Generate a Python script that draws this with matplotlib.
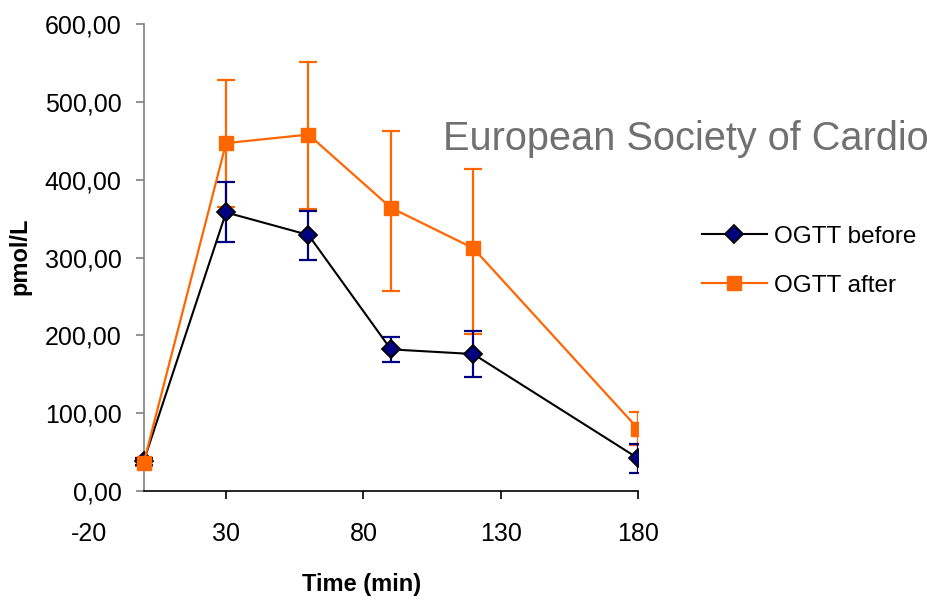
import matplotlib.pyplot as plt
import matplotlib.ticker as mticker

plt.rcParams['font.family'] = ['Liberation Sans', 'DejaVu Sans']
plt.rcParams['axes.unicode_minus'] = False

# ---- data ----
time_min = [0, 30, 60, 90, 120, 180]
before_mean = [38, 358, 329, 182, 176, 42]
before_err_lo = [5, 38, 32, 16, 29, 19]
before_err_hi = [5, 39, 31, 16, 29, 19]
after_mean = [36, 447, 458, 364, 312, 80]
after_err_lo = [4, 82, 96, 107, 110, 21]
after_err_hi = [4, 81, 93, 99, 102, 21]

x_ticks = [-20, 30, 80, 130, 180]
y_ticks = [0, 100, 200, 300, 400, 500, 600]

navy = '#000080'
orange = '#FF6600'

fig = plt.figure(figsize=(9.28, 6.01), dpi=100)
ax = fig.add_axes([0.0956, 0.183, 0.592, 0.777])

# before series
ax.errorbar(time_min, before_mean, yerr=[before_err_lo, before_err_hi],
            fmt='none', ecolor=navy, elinewidth=1.6, capsize=6.5,
            capthick=1.6, zorder=3)
ax.plot(time_min, before_mean, color='black', lw=1.5, marker='D',
        markersize=9, markerfacecolor=navy, markeredgecolor='black',
        markeredgewidth=1.3, label='OGTT before', zorder=4)

# after series
ax.errorbar(time_min, after_mean, yerr=[after_err_lo, after_err_hi],
            fmt='none', ecolor=orange, elinewidth=1.6, capsize=6.5,
            capthick=1.6, zorder=2)
ax.plot(time_min, after_mean, color=orange, lw=1.6, marker='s',
        markersize=10, markerfacecolor=orange, markeredgecolor=orange,
        label='OGTT after', zorder=4.5)

ax.set_xlim(-20, 180)
ax.set_ylim(0, 600)

# axes styling (Excel look)
ax.spines['top'].set_visible(False)
ax.spines['right'].set_visible(False)
ax.spines['left'].set_position(('data', 0))
ax.spines['left'].set_color('#808080')
ax.spines['left'].set_linewidth(1.2)
ax.spines['bottom'].set_bounds(0, 180)
ax.spines['bottom'].set_linewidth(1.2)

ax.set_xticks(x_ticks)
ax.set_yticks(y_ticks)
ax.yaxis.set_major_formatter(mticker.FuncFormatter(
    lambda v, p: f'{v:.2f}'.replace('.', ',')))
ax.tick_params(axis='y', direction='out', length=6, width=1.2,
               color='#808080', pad=10, labelsize=18)
ax.tick_params(axis='x', direction='out', length=6, width=1.2,
               color='black', pad=16, labelsize=18)
ax.xaxis.get_major_ticks()[0].tick1line.set_visible(False)

fig.text(0.022, 0.573, 'pmol/L', rotation=90, ha='center', va='center',
         fontsize=17, fontweight='bold')
fig.text(0.39, 0.027, 'Time (min)', ha='center', va='center',
         fontsize=17, fontweight='bold')

# watermark text, runs to the figure edge as in the reference
fig.text(0.477, 0.768, 'European Society of Cardio', color='#707070',
         fontsize=28.6, ha='left', va='center')

ax.legend(loc='upper left', bbox_to_anchor=(0.756, 0.624),
          bbox_transform=fig.transFigure, frameon=False, fontsize=17.5,
          handlelength=2.7, handletextpad=0.3, labelspacing=1.1,
          borderpad=0, borderaxespad=0)

fig.savefig('out.png', dpi=100)
